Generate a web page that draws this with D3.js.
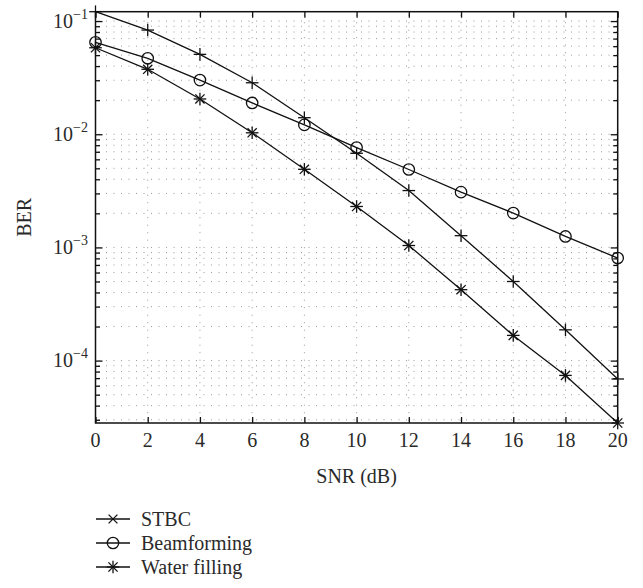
<!DOCTYPE html>
<html><head><meta charset="utf-8">
<script src="https://cdn.jsdelivr.net/npm/d3@7"></script>
<style>
html,body{margin:0;padding:0;background:#fff;}
</style></head>
<body>
<svg id="chart" width="643" height="588" font-family="'Liberation Serif', 'Times New Roman', 'DejaVu Serif', serif"></svg>
<script>
const snr = [0, 2, 4, 6, 8, 10, 12, 14, 16, 18, 20];
const stbc = [0.121, 0.0833, 0.0508, 0.0285, 0.0140, 0.00679, 0.00318, 0.00127, 0.000500, 0.000187, 0.0000688];
const beamforming = [0.0649, 0.0469, 0.0301, 0.0189, 0.0121, 0.00762, 0.00488, 0.00308, 0.00201, 0.00125, 0.000806];
const waterFilling = [0.0581, 0.0375, 0.0205, 0.0103, 0.0049, 0.00230, 0.00104, 0.000423, 0.000167, 0.000074, 0.0000281];
const seriesNames = ["STBC", "Beamforming", "Water filling"];
const xTicks = [0, 2, 4, 6, 8, 10, 12, 14, 16, 18, 20];
const yMajorExps = [-4, -3, -2, -1];
const yDomain = [0.0000281, 0.121];

const FONT = "'Liberation Serif', 'Times New Roman', 'DejaVu Serif', serif";
const FS = 20;
const svg = d3.select("#chart");
const L = 95.5, R = 617.7, T = 11.7, B = 423;
const x = d3.scaleLinear().domain([0, 20]).range([L, R]);
const y = d3.scaleLog().domain(yDomain).range([B, T]);

const yAll = [];
for (let e = -5; e <= -1; e++) for (let k = 1; k <= 9; k++) {
  const v = k * Math.pow(10, e);
  if (v >= yDomain[0] * 0.999 && v <= yDomain[1]) yAll.push(v);
}
const isMajor = v => Math.abs(Math.log10(v) - Math.round(Math.log10(v))) < 1e-9;

const grid = svg.append("g").attr("stroke", "#999").attr("stroke-width", 1).attr("stroke-dasharray", "1,6.5");
grid.selectAll("line.h").data(yAll).join("line")
  .attr("x1", L + 3).attr("x2", R).attr("y1", d => y(d)).attr("y2", d => y(d));
grid.selectAll("line.v").data(xTicks.slice(1, -1)).join("line")
  .attr("x1", d => x(d)).attr("x2", d => x(d)).attr("y1", T + 3).attr("y2", B);

const ax = svg.append("g").attr("class", "axes");
const xb = d3.axisBottom(x).tickValues(xTicks).tickSize(-6).tickFormat("");
const xt = d3.axisTop(x).tickValues(xTicks).tickSize(-6).tickFormat("");
ax.append("g").attr("transform", `translate(0,${B})`).call(xb);
ax.append("g").attr("transform", `translate(0,${T})`).call(xt);
const yl = d3.axisLeft(y).tickValues(yAll).tickSize(0).tickFormat("");
const yr = d3.axisRight(y).tickValues(yAll).tickSize(0).tickFormat("");
const gl = ax.append("g").attr("transform", `translate(${L},0)`).call(yl);
const gr = ax.append("g").attr("transform", `translate(${R},0)`).call(yr);
gl.selectAll(".tick line").attr("x2", d => isMajor(d) ? 7 : 4.5);
gr.selectAll(".tick line").attr("x2", d => isMajor(d) ? -7 : -4.5);
ax.selectAll(".domain").remove();
ax.selectAll("line").attr("stroke", "#111").attr("stroke-width", 1.3);
svg.append("rect").attr("x", L).attr("y", T).attr("width", R - L).attr("height", B - T)
  .attr("fill", "none").attr("stroke", "#111").attr("stroke-width", 1.5);

const txt = (sel) => sel.attr("font-family", FONT).attr("fill", "#2a2a2a");

txt(svg.append("g").selectAll("text").data(xTicks).join("text"))
  .attr("x", d => x(d)).attr("y", 447).attr("text-anchor", "middle")
  .attr("font-size", FS).text(d => d);

const yt = txt(svg.append("g").selectAll("text").data(yMajorExps).join("text"))
  .attr("x", 88).attr("y", d => y(Math.pow(10, d)) + 6.5).attr("text-anchor", "end")
  .attr("font-size", FS);
yt.append("tspan").text("10");
yt.append("tspan").attr("font-size", 14).attr("dy", -9).text(d => "\u2212" + Math.abs(d));

txt(svg.append("text")).attr("x", (L + R) / 2).attr("y", 483).attr("text-anchor", "middle")
  .attr("font-size", FS).text("SNR (dB)");
txt(svg.append("text")).attr("transform", `translate(31,${(T + B) / 2}) rotate(-90)`)
  .attr("text-anchor", "middle").attr("font-size", FS).text("BER");

const data = [stbc, beamforming, waterFilling];
const line = d3.line().x((d, i) => x(snr[i])).y(d => y(d));
const plot = svg.append("g");
data.forEach(s => {
  plot.append("path").attr("d", line(s)).attr("fill", "none").attr("stroke", "#111").attr("stroke-width", 1.3);
});

function drawMarker(g, type, cx, cy) {
  const s = 6.3;
  if (type === "plus" || type === "star") {
    g.append("line").attr("x1", cx - s).attr("x2", cx + s).attr("y1", cy).attr("y2", cy);
    g.append("line").attr("x1", cx).attr("x2", cx).attr("y1", cy - s).attr("y2", cy + s);
  }
  if (type === "cross" || type === "star") {
    const c = type === "star" ? 4.6 : 4.4;
    g.append("line").attr("x1", cx - c).attr("x2", cx + c).attr("y1", cy - c).attr("y2", cy + c);
    g.append("line").attr("x1", cx - c).attr("x2", cx + c).attr("y1", cy + c).attr("y2", cy - c);
  }
  if (type === "circle") {
    g.append("circle").attr("cx", cx).attr("cy", cy).attr("r", 5.7).attr("fill", "none");
  }
}
const mk = svg.append("g").attr("stroke", "#111").attr("stroke-width", 1.3);
const plotMarkers = ["plus", "circle", "star"];
data.forEach((s, si) => {
  s.forEach((v, i) => drawMarker(mk, plotMarkers[si], x(snr[i]), y(v)));
});

const legMarkers = ["cross", "circle", "star"];
const legY = [519, 543, 567];
const lg = svg.append("g");
seriesNames.forEach((n, i) => {
  lg.append("line").attr("x1", 96).attr("x2", 130).attr("y1", legY[i]).attr("y2", legY[i])
    .attr("stroke", "#111").attr("stroke-width", 1.3);
  const g = lg.append("g").attr("stroke", "#111").attr("stroke-width", 1.3);
  drawMarker(g, legMarkers[i], 113, legY[i]);
  txt(lg.append("text")).attr("x", 141).attr("y", legY[i] + 6.5).attr("font-size", FS).text(n);
});
</script>
</body></html>
